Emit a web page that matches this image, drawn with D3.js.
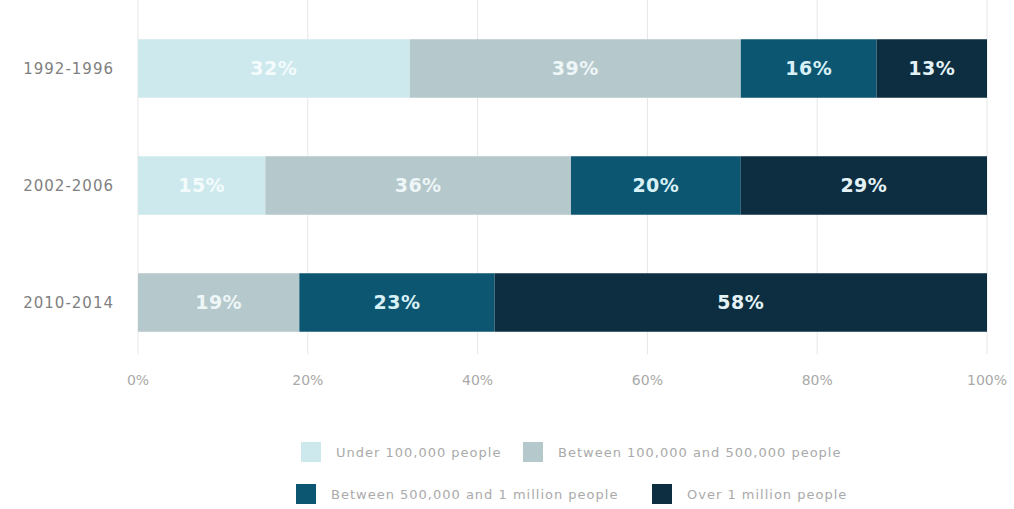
<!DOCTYPE html>
<html>
<head>
<meta charset="utf-8">
<script src="https://cdn.jsdelivr.net/npm/d3@7"></script>
<style>
    body { margin: 0; background: #fff; }
    svg { display: block; font-family: "DejaVu Sans", sans-serif; }
    .tick-label { fill: #aaa; font-size: 14px; }
    .cat-label { fill: #808080; font-size: 15px; letter-spacing: 1px; }
    .seg-label { font-size: 19px; font-weight: bold; letter-spacing: 0.5px; }
    .legend-label { fill: #aaa; font-size: 13px; letter-spacing: 1px; }
</style>
</head>
<body>
<div id="chart"></div>
<script>
"use strict"

const periods = ["1992-1996", "2002-2006", "2010-2014"]
const groups = [
    "Under 100,000 people",
    "Between 100,000 and 500,000 people",
    "Between 500,000 and 1 million people",
    "Over 1 million people"
]
// share per group, one array per period
const shares1992 = [32, 39, 16, 13]
const shares2002 = [15, 36, 20, 29]
const shares2010 = [0, 19, 23, 58]
const xTicks = [0, 20, 40, 60, 80, 100]

const colors = ["#cde9ed", "#b5c8cc", "#0d5672", "#0c2e40"]
const textColors = ["#f4fbfc", "#eef6f7", "#d8f1f6", "#e4f2f6"]

const size = { width: 1014, height: 509 }
const x = d3.scaleLinear().domain([0, 100]).range([138, 987])
const y = d3.scaleBand().domain(periods).range([10, 361]).paddingInner(0.5).paddingOuter(0.25)

const svg = d3.select("#chart")
    .append("svg")
    .attr("width", size.width)
    .attr("height", size.height)

// vertical grid
svg.append("g")
    .selectAll("line")
    .data(xTicks)
    .enter()
    .append("line")
    .attr("x1", d => x(d))
    .attr("x2", d => x(d))
    .attr("y1", 0)
    .attr("y2", 354)
    .attr("stroke", "#e6e6e6")
    .attr("stroke-width", 1)

svg.append("g")
    .selectAll("text")
    .data(xTicks)
    .enter()
    .append("text")
    .classed("tick-label", true)
    .attr("x", d => x(d))
    .attr("y", 385)
    .attr("text-anchor", "middle")
    .text(d => d + "%")

const rows = [shares1992, shares2002, shares2010].map((vals, i) => {
    let acc = 0
    return {
        period: periods[i],
        segs: vals.map((v, k) => {
            const seg = { k: k, v: v, x0: acc, x1: acc + v }
            acc += v
            return seg
        })
    }
})

const rowG = svg.selectAll(".row")
    .data(rows)
    .enter()
    .append("g")
    .classed("row", true)
    .attr("transform", d => `translate(0, ${y(d.period)})`)

rowG.append("text")
    .classed("cat-label", true)
    .attr("x", 114)
    .attr("y", y.bandwidth() / 2)
    .attr("dy", "0.35em")
    .attr("text-anchor", "end")
    .text(d => d.period)

const segs = rowG.selectAll(".seg")
    .data(d => d.segs.filter(s => s.v > 0))
    .enter()
    .append("g")
    .classed("seg", true)

segs.append("rect")
    .attr("x", d => x(d.x0))
    .attr("width", d => x(d.x1) - x(d.x0))
    .attr("y", 0)
    .attr("height", y.bandwidth())
    .attr("fill", d => colors[d.k])

segs.append("text")
    .classed("seg-label", true)
    .attr("x", d => (x(d.x0) + x(d.x1)) / 2)
    .attr("y", y.bandwidth() / 2)
    .attr("dy", "0.35em")
    .attr("text-anchor", "middle")
    .attr("fill", d => textColors[d.k])
    .text(d => d.v + "%")

// legend, two rows
const legendPos = [
    { x: 301, y: 452 }, { x: 523, y: 452 },
    { x: 296, y: 494 }, { x: 652, y: 494 }
]
const legend = svg.selectAll(".legend")
    .data(groups)
    .enter()
    .append("g")
    .classed("legend", true)
    .attr("transform", (d, i) => `translate(${legendPos[i].x}, ${legendPos[i].y})`)
legend.append("rect")
    .attr("x", 0)
    .attr("y", -10)
    .attr("width", 20)
    .attr("height", 20)
    .attr("fill", (d, i) => colors[i])
legend.append("text")
    .classed("legend-label", true)
    .attr("x", 35)
    .attr("y", 0)
    .attr("dy", "0.35em")
    .text(d => d)
</script>
</body>
</html>
